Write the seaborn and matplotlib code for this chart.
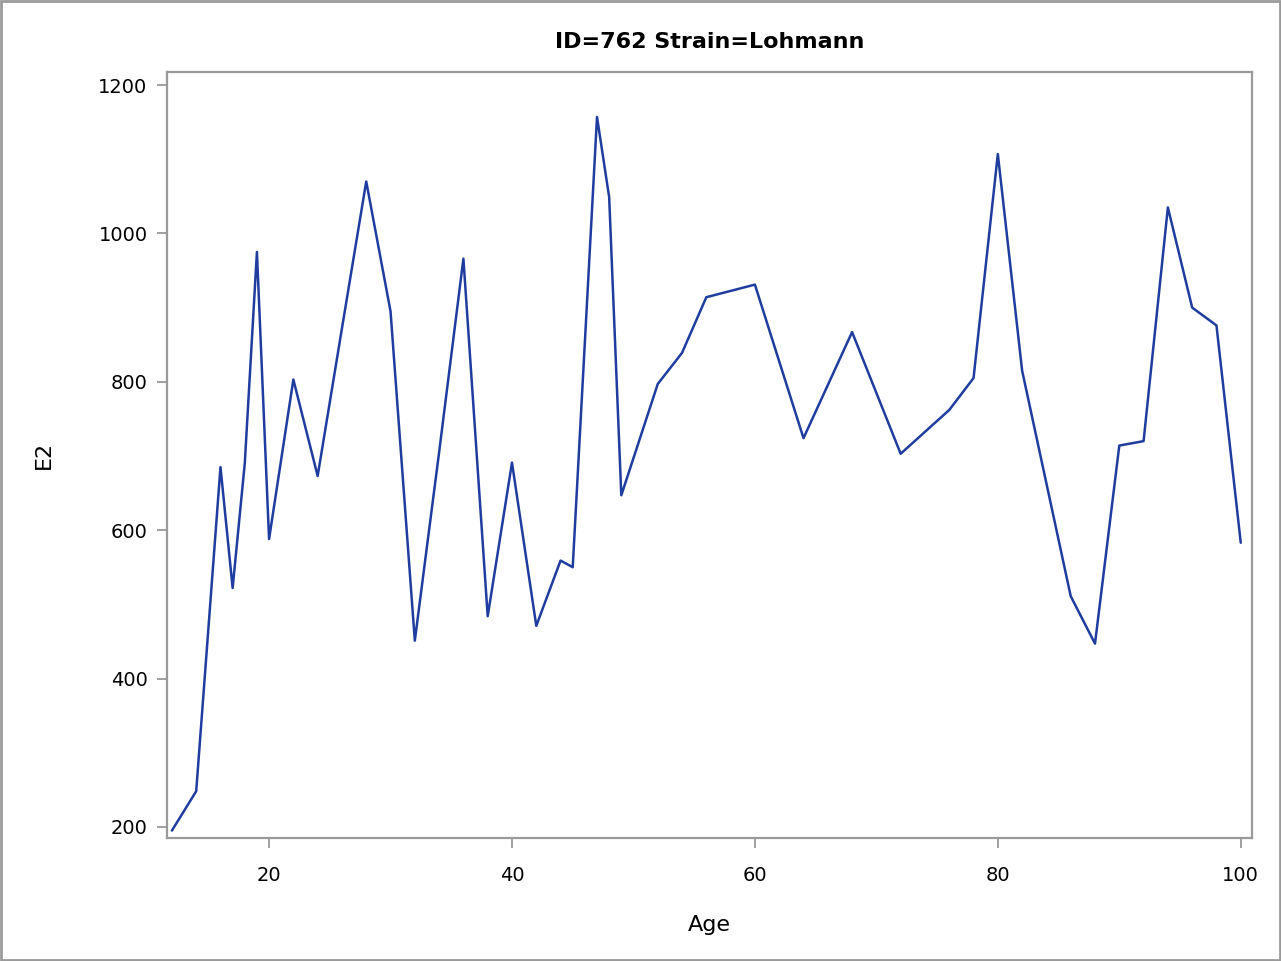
import pandas as pd
import matplotlib
matplotlib.use("Agg")
import matplotlib.pyplot as plt
from matplotlib.patches import Rectangle
import seaborn as sns

# Data
age = [12, 14, 16, 17, 18, 19, 20, 22, 24, 26, 28, 30, 32, 34, 36, 38, 40, 42,
       44, 45, 47, 48, 49, 52, 54, 56, 60, 64, 68, 72, 76, 78, 80, 82, 86, 88,
       90, 92, 94, 96, 98, 100]
e2 = [195, 248, 685, 522, 690, 975, 588, 803, 673, 872, 1070, 895, 451, 705,
      966, 484, 691, 471, 559, 550, 1157, 1049, 647, 797, 839, 914, 931, 724,
      867, 703, 762, 805, 1107, 815, 511, 447, 714, 720, 1035, 900, 876, 583]

df = pd.DataFrame({"Age": age, "E2": e2})

sns.set_theme(style="white")
plt.rcParams['font.family'] = ['DejaVu Sans']
plt.rcParams['text.color'] = 'black'
plt.rcParams['axes.labelcolor'] = 'black'
plt.rcParams['xtick.color'] = 'black'
plt.rcParams['ytick.color'] = 'black'

fig = plt.figure(figsize=(12.81, 9.61), dpi=100)
ax = fig.add_axes([0.1304, 0.1280, 0.847, 0.797])

sns.lineplot(data=df, x="Age", y="E2", color="#1f3d9e", linewidth=1.8, ax=ax)

ax.set_xlim(11.6, 100.93)
ax.set_ylim(185, 1217.5)
ax.set_xticks([20, 40, 60, 80, 100])
ax.set_yticks([200, 400, 600, 800, 1000, 1200])

ax.set_title("ID=762 Strain=Lohmann", fontsize=16, fontweight="bold", pad=17)
ax.set_xlabel("Age", fontsize=16, labelpad=22)
ax.set_ylabel("E2", fontsize=16, labelpad=32)

ax.tick_params(axis="both", which="major", labelsize=14, direction="out",
               length=7, width=1.2, color="#909090", bottom=True, left=True,
               labelcolor="black")
ax.tick_params(axis="x", pad=13)
ax.tick_params(axis="y", pad=7)
for s in ax.spines.values():
    s.set_color("#9a9a9a")
    s.set_linewidth(1.6)

# grey frame round the whole picture
fig.patches.append(Rectangle((0.001, 0.001), 0.998, 0.998, transform=fig.transFigure,
                             fill=False, edgecolor="#9a9a9a", linewidth=2))

plt.savefig("out.png", dpi=100)
plt.close()
